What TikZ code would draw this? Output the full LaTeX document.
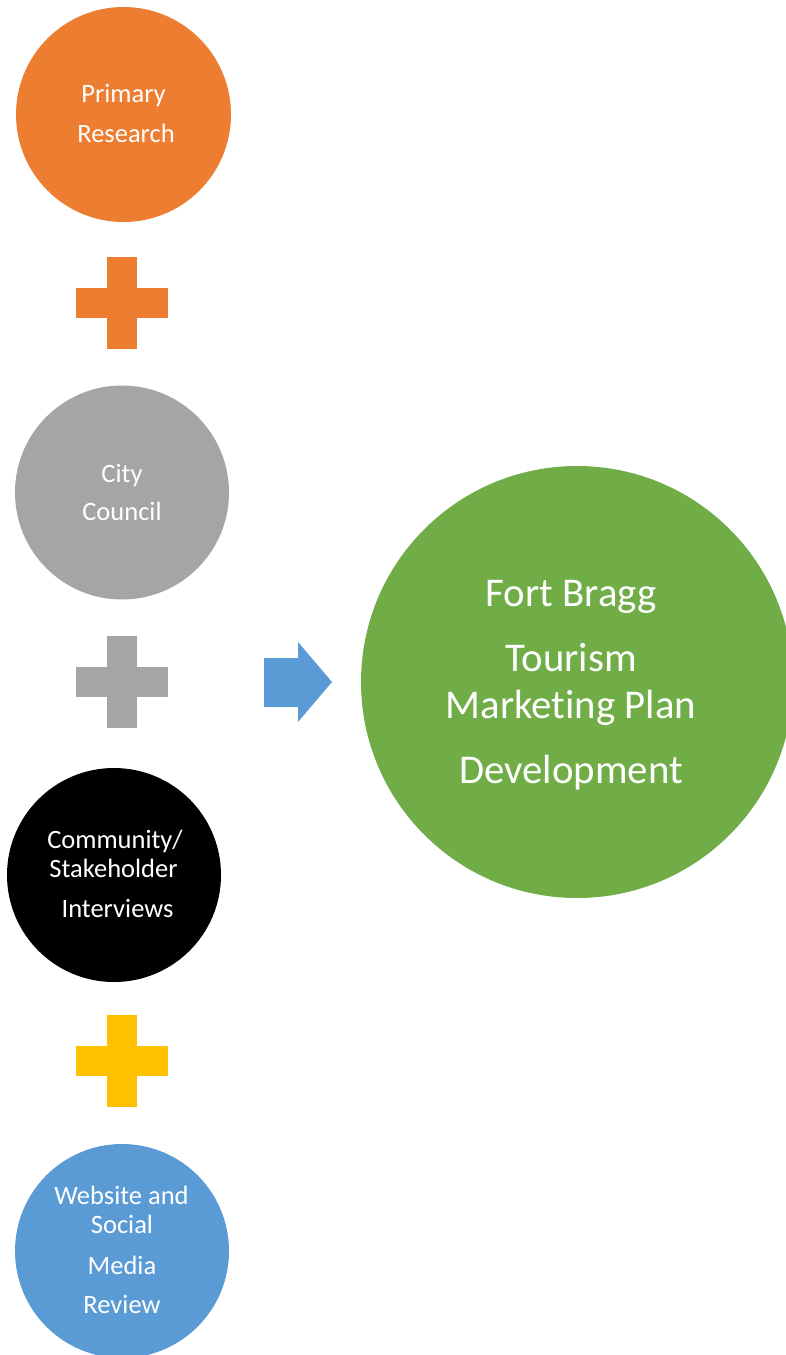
\documentclass[tikz,border=0pt]{standalone}
\usepackage{fontspec}
\setmainfont{Carlito}[Ligatures={NoCommon}]
\definecolor{oorange}{HTML}{ED7D31}
\definecolor{ogray}{HTML}{A5A5A5}
\definecolor{oyellow}{HTML}{FFC000}
\definecolor{oblue}{HTML}{5B9BD5}
\definecolor{ogreen}{HTML}{70AD47}
\begin{document}
\begin{tikzpicture}[x=1pt,y=-1pt,
  disc/.style={circle,draw=none,inner sep=0pt,minimum size=#1},
  small/.style={text=white,anchor=base,inner sep=0pt,font=\fontsize{26.5}{30}\selectfont},
  big/.style={text=white,anchor=base,inner sep=0pt,font=\fontsize{40.8}{46}\selectfont},
  pics/plussign/.style={code={
    \fill[#1] (-15,-46) rectangle (15,46);
    \fill[#1] (-46,-15) rectangle (46,15);
  }}]
\useasboundingbox (0,0) rectangle (785,1355);
% circles
\node[disc=215pt,fill=oorange] (c1) at (123.5,114.5) {};
\node[disc=214pt,fill=ogray] (c2) at (122,492.5) {};
\node[disc=214pt,fill=black] (c3) at (114,875) {};
\node[disc=214pt,fill=oblue] (c4) at (122,1251) {};
\node[disc=432pt,fill=ogreen] (g) at (577,682) {};
% plus signs
\pic at (122,303) {plussign=oorange};
\pic at (122,681.5) {plussign=ogray};
\pic at (122,1061) {plussign=oyellow};
% arrow
\fill[oblue] (264,658) -- (298,658) -- (298,642) -- (332,682) -- (298,722) -- (298,707) -- (264,707) -- cycle;
% texts
\node[small] (t1a) at (123.5,102) {Primary};
\node[small] (t1b) at (126,142) {Research};
\node[small] (t2a) at (122,482) {City};
\node[small] (t2b) at (122,520) {Council};
\node[small] (t3a) at (115,848) {Community/};
\node[small] (t3b) at (113.5,877) {Stakeholder};
\node[small] (t3c) at (117.5,917) {Interviews};
\node[small] (t4a) at (121.5,1204) {Website and};
\node[small] (t4b) at (122,1233) {Social};
\node[small] (t4c) at (122,1274) {Media};
\node[small] (t4d) at (122,1313) {Review};
\node[big] (ga) at (571,606) {Fort Bragg};
\node[big] (gb) at (571,671) {Tourism};
\node[big] (gc) at (571,718) {Marketing Plan};
\node[big] (gd) at (571,783) {Development};
\end{tikzpicture}
\end{document}
